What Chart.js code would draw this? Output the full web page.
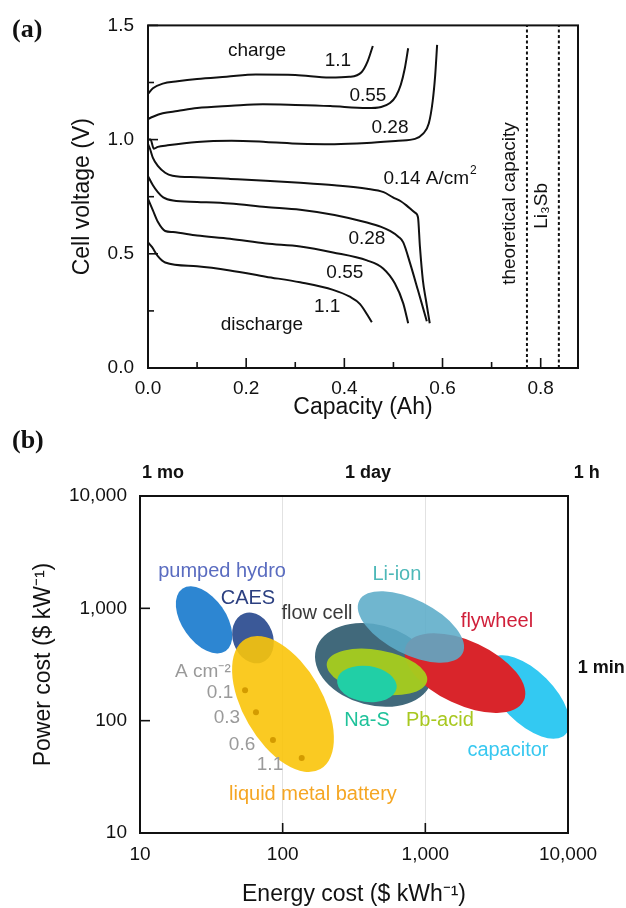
<!DOCTYPE html>
<html lang="en">
<head>
<meta charset="UTF-8">
<title>Liquid metal battery: cell voltage and storage cost</title>
<script src="https://cdn.jsdelivr.net/npm/chart.js"></script>
<style>
  body { margin: 0; background: #fff; width: 626px; height: 908px; position: relative; overflow: hidden; }
  canvas { position: absolute; left: 0; }
  #chartA { top: 0; }
  #chartB { top: 425px; }
  .panel { position: absolute; left: 12px; font: bold 26px "Liberation Serif", "Times New Roman", serif; color: #111; }
</style>
</head>
<body>
<canvas id="chartA" width="626" height="425"></canvas>
<canvas id="chartB" width="626" height="483"></canvas>
<div class="panel" style="top:14px">(a)</div>
<div class="panel" style="top:425px">(b)</div>

<script>
// ---------- panel (a): charge / discharge curves ----------
const charge11Cap = [0, 0.01, 0.03, 0.06, 0.1, 0.16, 0.22, 0.3, 0.37, 0.41, 0.435, 0.447, 0.458];
const charge11V   = [1.20, 1.225, 1.245, 1.255, 1.265, 1.275, 1.285, 1.283, 1.272, 1.275, 1.295, 1.34, 1.41];
const charge055Cap = [0, 0.01, 0.03, 0.06, 0.1, 0.17, 0.234, 0.3, 0.371, 0.446, 0.475, 0.493, 0.505, 0.515, 0.523, 0.53];
const charge055V   = [1.09, 1.10, 1.115, 1.125, 1.138, 1.148, 1.155, 1.152, 1.147, 1.138, 1.143, 1.16, 1.19, 1.24, 1.31, 1.40];
const charge028Cap = [0, 0.005, 0.012, 0.02, 0.04, 0.1, 0.17, 0.24, 0.31, 0.38, 0.446, 0.51, 0.544, 0.56, 0.572, 0.58, 0.585, 0.589];
const charge028V   = [1.0, 1.0, 0.96, 0.968, 0.975, 0.99, 0.995, 0.99, 0.982, 0.98, 0.985, 0.995, 1.003, 1.025, 1.07, 1.169, 1.28, 1.415];

const dis014Cap = [0, 0.004, 0.01, 0.02, 0.035, 0.05, 0.1, 0.167, 0.24, 0.31, 0.38, 0.446, 0.48, 0.499, 0.515, 0.527, 0.544, 0.55, 0.554, 0.56, 0.566, 0.574];
const dis014V   = [0.98, 0.96, 0.92, 0.885, 0.855, 0.842, 0.835, 0.828, 0.82, 0.811, 0.8, 0.785, 0.77, 0.747, 0.73, 0.711, 0.68, 0.66, 0.53, 0.384, 0.30, 0.196];
const dis028Cap = [0, 0.01, 0.02, 0.031, 0.051, 0.1, 0.167, 0.24, 0.31, 0.38, 0.446, 0.475, 0.493, 0.51, 0.52, 0.534, 0.55, 0.568];
const dis028V   = [0.84, 0.80, 0.77, 0.747, 0.733, 0.727, 0.72, 0.705, 0.693, 0.67, 0.637, 0.618, 0.60, 0.575, 0.55, 0.458, 0.34, 0.205];
const dis055Cap = [0, 0.01, 0.02, 0.035, 0.051, 0.1, 0.167, 0.24, 0.31, 0.377, 0.446, 0.479, 0.503, 0.52, 0.53];
const dis055V   = [0.74, 0.69, 0.64, 0.60, 0.595, 0.58, 0.566, 0.545, 0.532, 0.506, 0.471, 0.436, 0.37, 0.283, 0.196];
const dis11Cap = [0, 0.008, 0.02, 0.035, 0.1, 0.167, 0.24, 0.31, 0.377, 0.411, 0.432, 0.456];
const dis11V   = [0.55, 0.53, 0.49, 0.462, 0.445, 0.427, 0.40, 0.375, 0.342, 0.312, 0.28, 0.2];

// theoretical capacity lines
const theoryCap = [0.772, 0.837];

const curveLabels = ['charge', '1.1', '0.55', '0.28', '0.14 A/cm', '0.28', '0.55', '1.1', 'discharge'];
const curveLabelCap = [0.222, 0.387, 0.448, 0.493, 0.567, 0.446, 0.401, 0.365, 0.232];
const curveLabelV = [1.391, 1.343, 1.19, 1.051, 0.829, 0.567, 0.419, 0.266, 0.188];

// ---------- panel (b): cost comparison ----------
const techNames = ['pumped hydro', 'CAES', 'liquid metal battery', 'capacitor', 'flow cell', 'flywheel', 'Pb-acid', 'Na-S', 'Li-ion'];
// ends of each region's long axis ($/kWh, $/kW)
const techE1 = [19.8, 53.6, 54.9, 2859, 171, 733, 204, 241, 344];
const techP1 = [1492, 899, 534, 351, 431, 467, 326, 231, 1171];
const techE2 = [39.9, 71.5, 184, 9590, 1112, 4901, 1029, 629, 1826];
const techP2 = [417, 330, 37.1, 75.4, 228, 151, 226, 195, 398];
const techWidth = [0.58, 0.77, 0.53, 0.49, 0.67, 0.49, 0.43, 0.6, 0.47];
const techFill = ['#2d86d2', '#3b5998', 'rgba(250,196,10,0.9)', '#33c9f2', '#41697b', '#d9252b',
                  'rgba(166,206,30,0.95)', '#21cfa6', 'rgba(92,172,200,0.88)'];

const techLabelE = [37.6, 57.1, 163, 3794, 174, 3177, 1265, 390, 632];
const techLabelP = [2109, 1213, 22.2, 54.8, 891, 757, 101, 101, 1982];
const techLabelColor = ['#5a6cc0', '#2b3f80', '#f5a623', '#38c8f0', '#3a3a3a', '#d0203a', '#a8c820', '#1fc29a', '#4db8b8'];

// liquid metal battery operating points
const lmbCurrent = ['0.1', '0.3', '0.6', '1.1'];
const lmbE = [54.5, 65, 85.5, 136];
const lmbP = [187, 119, 67.3, 46.6];
const lmbLabelE = [36.4, 40.7, 51.9, 81.5];
const lmbLabelP = [177, 106, 60.8, 40.4];

const durationLabels = ['1 mo', '1 day', '1 h'];
const durationE = [14.5, 396, 13550];
const durationP = 16070;

const costTicks = [10, 100, 1000, 10000];

// ---------- shared ----------
const SANS = '"Liberation Sans", Arial, sans-serif';
Chart.defaults.font.family = SANS;
Chart.defaults.color = '#111';

const toPts = (xs, ys) => xs.map((x, i) => ({ x: x, y: ys[i] }));

function frame(major, minor, tickFilter) {
  return {
    id: 'frame',
    afterDraw(chart) {
      const { ctx, chartArea: a, scales } = chart;
      ctx.save();
      ctx.strokeStyle = '#111';
      ctx.lineWidth = 1.6;
      scales.x.ticks.forEach(t => {
        if (!tickFilter(t)) return;
        const px = scales.x.getPixelForValue(t.value);
        const len = t.label ? major : minor;
        ctx.beginPath(); ctx.moveTo(px, a.bottom); ctx.lineTo(px, a.bottom - len); ctx.stroke();
      });
      scales.y.ticks.forEach(t => {
        if (!tickFilter(t)) return;
        const py = scales.y.getPixelForValue(t.value);
        const len = t.label ? major : minor;
        ctx.beginPath(); ctx.moveTo(a.left, py); ctx.lineTo(a.left + len, py); ctx.stroke();
      });
      ctx.lineWidth = 2;
      ctx.strokeRect(a.left, a.top, a.right - a.left, a.bottom - a.top);
      ctx.restore();
    }
  };
}

function text(ctx, str, x, y, font, color, align, rot) {
  ctx.save();
  ctx.translate(x, y);
  if (rot) ctx.rotate(rot);
  ctx.font = font;
  ctx.fillStyle = color;
  ctx.textAlign = align || 'center';
  ctx.textBaseline = 'middle';
  ctx.fillText(str, 0, 0);
  ctx.restore();
}

// ---------- chart (a) ----------
const curveStyle = { showLine: true, borderColor: '#111', borderWidth: 2, pointRadius: 0, cubicInterpolationMode: 'monotone' };

const labelsA = {
  id: 'labelsA',
  afterDraw(chart) {
    const { ctx, scales: { x, y } } = chart;
    curveLabels.forEach((s, i) => {
      const px = x.getPixelForValue(curveLabelCap[i]), py = y.getPixelForValue(curveLabelV[i]);
      text(ctx, s, px, py, '19px ' + SANS, '#111');
      if (s.indexOf('A/cm') >= 0) {
        ctx.font = '19px ' + SANS;
        const w = ctx.measureText(s).width;
        text(ctx, '2', px + w / 2 + 1, py - 8, '12px ' + SANS, '#111', 'left');
      }
    });
    text(ctx, 'theoretical capacity', x.getPixelForValue(0.737), y.getPixelForValue(0.72), '19px ' + SANS, '#111', 'center', -Math.PI / 2);
    text(ctx, 'Li₃Sb', x.getPixelForValue(0.802), y.getPixelForValue(0.71), '19px ' + SANS, '#111', 'center', -Math.PI / 2);
  }
};

new Chart(document.getElementById('chartA'), {
  type: 'scatter',
  data: {
    datasets: [
      { data: toPts(charge11Cap, charge11V), ...curveStyle },
      { data: toPts(charge055Cap, charge055V), ...curveStyle },
      { data: toPts(charge028Cap, charge028V), ...curveStyle },
      { data: toPts(dis014Cap, dis014V), ...curveStyle },
      { data: toPts(dis028Cap, dis028V), ...curveStyle },
      { data: toPts(dis055Cap, dis055V), ...curveStyle },
      { data: toPts(dis11Cap, dis11V), ...curveStyle },
      ...theoryCap.map(c => ({
        data: [{ x: c, y: 0 }, { x: c, y: 1.5 }],
        showLine: true, borderColor: '#111', borderWidth: 2, borderDash: [3, 2.5], pointRadius: 0
      }))
    ]
  },
  options: {
    responsive: false,
    animation: false,
    layout: { padding: { top: 24, right: 48, left: 0, bottom: 0 } },
    plugins: { legend: { display: false }, tooltip: { enabled: false } },
    scales: {
      x: {
        type: 'linear', min: 0, max: 0.876,
        grid: { display: false, drawTicks: false }, border: { display: false },
        ticks: {
          stepSize: 0.1, includeBounds: false, padding: 9, autoSkip: false, maxRotation: 0,
          font: { size: 19 }, color: '#111',
          callback: v => Math.round(v * 10) % 2 === 0 ? v.toFixed(1) : ''
        },
        title: { display: true, text: 'Capacity (Ah)', font: { size: 23 }, color: '#111', padding: { top: 0, bottom: 4 } },
        afterFit: s => { s.height = 57; }
      },
      y: {
        min: 0, max: 1.5,
        grid: { display: false, drawTicks: false }, border: { display: false },
        ticks: {
          stepSize: 0.25, padding: 14, autoSkip: false, font: { size: 19 }, color: '#111',
          callback: v => Math.abs(v * 2 - Math.round(v * 2)) < 1e-6 ? v.toFixed(1) : ''
        },
        title: { display: true, text: 'Cell voltage (V)', font: { size: 23 }, color: '#111', padding: { top: 69, bottom: 0 } },
        afterFit: s => { s.width = 148; }
      }
    }
  },
  plugins: [frame(10, 6, t => true), labelsA]
});

// ---------- chart (b) ----------
const ellipses = {
  id: 'techEllipses',
  beforeDatasetsDraw(chart) {
    const { ctx, chartArea: a, scales: { x, y } } = chart;
    ctx.save();
    ctx.beginPath();
    ctx.rect(a.left, a.top, a.right - a.left, a.bottom - a.top);
    ctx.clip();
    techNames.forEach((name, i) => {
      const x1 = x.getPixelForValue(techE1[i]), y1 = y.getPixelForValue(techP1[i]);
      const x2 = x.getPixelForValue(techE2[i]), y2 = y.getPixelForValue(techP2[i]);
      const r = Math.hypot(x2 - x1, y2 - y1) / 2;
      ctx.beginPath();
      ctx.ellipse((x1 + x2) / 2, (y1 + y2) / 2, r, r * techWidth[i], Math.atan2(y2 - y1, x2 - x1), 0, Math.PI * 2);
      ctx.fillStyle = techFill[i];
      ctx.fill();
    });
    ctx.restore();
  }
};

const labelsB = {
  id: 'labelsB',
  afterDraw(chart) {
    const { ctx, scales: { x, y } } = chart;
    techNames.forEach((s, i) => {
      text(ctx, s, x.getPixelForValue(techLabelE[i]), y.getPixelForValue(techLabelP[i]), '20px ' + SANS, techLabelColor[i]);
    });
    lmbCurrent.forEach((s, i) => {
      text(ctx, s, x.getPixelForValue(lmbLabelE[i]), y.getPixelForValue(lmbLabelP[i]), '19px ' + SANS, '#9a9a9a');
    });
    text(ctx, 'A cm⁻²', x.getPixelForValue(27.6), y.getPixelForValue(272), '19px ' + SANS, '#9a9a9a');
    durationLabels.forEach((s, i) => {
      text(ctx, s, x.getPixelForValue(durationE[i]), y.getPixelForValue(durationP), 'bold 18px ' + SANS, '#111');
    });
    text(ctx, '1 min', x.getPixelForValue(11720), y.getPixelForValue(294), 'bold 18px ' + SANS, '#111', 'left');
  }
};

const costScale = (title, pad) => ({
  type: 'logarithmic', min: 10, max: 10000,
  border: { display: false },
  afterBuildTicks: s => { s.ticks = costTicks.map(v => ({ value: v })); },
  ticks: { autoSkip: false, maxRotation: 0, font: { size: 19 }, color: '#111', callback: v => Number(v).toLocaleString('en-US') },
  title: { display: true, text: title, font: { size: 23 }, color: '#111', padding: pad }
});

const xB = costScale('Energy cost ($ kWh⁻¹)', { top: 0, bottom: 0 });
xB.ticks.padding = 10;
xB.grid = { drawTicks: false, lineWidth: 1, color: c => (c.tick && (c.tick.value === 100 || c.tick.value === 1000)) ? '#e2e2e2' : 'rgba(0,0,0,0)' };
xB.afterFit = s => { s.height = 75; };

const yB = costScale('Power cost ($ kW⁻¹)', { top: 30, bottom: 0 });
yB.ticks.padding = 13;
yB.grid = { display: false, drawTicks: false };
yB.afterFit = s => { s.width = 140; };

new Chart(document.getElementById('chartB'), {
  type: 'scatter',
  data: {
    datasets: [{
      data: toPts(lmbE, lmbP),
      pointRadius: 3, pointBackgroundColor: '#d39b00', pointBorderWidth: 0
    }]
  },
  options: {
    responsive: false,
    animation: false,
    layout: { padding: { top: 71, right: 58, left: 0, bottom: 0 } },
    plugins: { legend: { display: false }, tooltip: { enabled: false } },
    scales: { x: xB, y: yB }
  },
  plugins: [ellipses, frame(10, 10, t => t.value === 100 || t.value === 1000), labelsB]
});
</script>
</body>
</html>
